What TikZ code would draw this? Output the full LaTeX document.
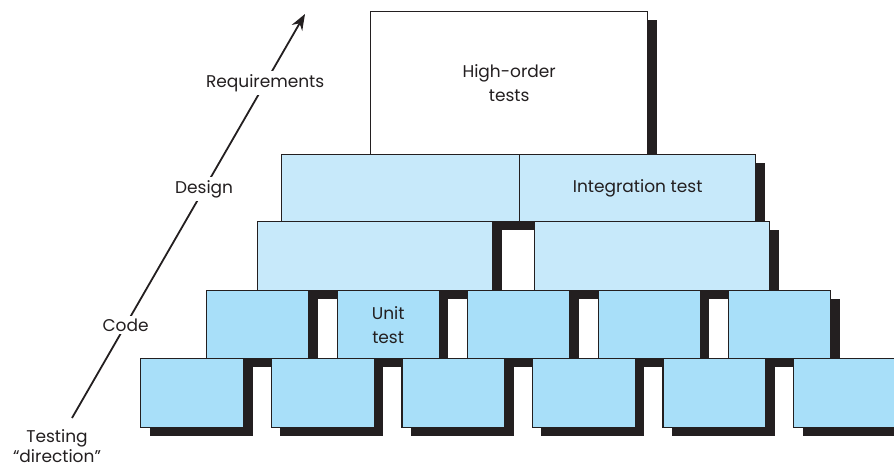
\documentclass[tikz,border=0pt]{standalone}
\usepackage{fontspec}
\setmainfont{Poppins}
\usetikzlibrary{arrows.meta,shadows}

\definecolor{inkgray}{RGB}{35,31,32}
\definecolor{paleblue}{RGB}{199,233,250}
\definecolor{brickblue}{RGB}{168,223,249}

\tikzset{
  brick/.style={draw=inkgray, line width=1.3pt, inner sep=0pt, anchor=north west,
    drop shadow={shadow xshift=9pt, shadow yshift=-8pt, fill=inkgray, opacity=1},
    font=\fontsize{17}{24}\selectfont, text=inkgray, align=center},
  lvllabel/.style={fill=white, inner sep=3pt, font=\fontsize{17}{22}\selectfont, text=inkgray},
}

\begin{document}
\begin{tikzpicture}[x=1pt, y=-1pt]
\useasboundingbox (0, 0) rectangle (894, 469);

% top of the pyramid
\node[brick, fill=white, minimum width=277pt, minimum height=143pt] (H) at (370, 11) {High-order\\tests};

% integration rows
\node[brick, fill=paleblue, minimum width=238pt, minimum height=67pt] (I1) at (281, 154) {};
\node[brick, fill=paleblue, minimum width=236pt, minimum height=67pt] (I2) at (519, 154) {Integration test};
\node[brick, fill=paleblue, minimum width=235pt, minimum height=69pt] (J1) at (257, 221) {};
\node[brick, fill=paleblue, minimum width=235pt, minimum height=69pt] (J2) at (534, 221) {};

% unit rows
\node[brick, fill=brickblue, minimum width=102pt, minimum height=68pt] (U1) at (206, 290) {};
\node[brick, fill=brickblue, minimum width=102pt, minimum height=68pt] (U2) at (336.5, 290) {Unit\\test};
\node[brick, fill=brickblue, minimum width=102pt, minimum height=68pt] (U3) at (467, 290) {};
\node[brick, fill=brickblue, minimum width=102pt, minimum height=68pt] (U4) at (597.5, 290) {};
\node[brick, fill=brickblue, minimum width=102pt, minimum height=68pt] (U5) at (728, 290) {};
\node[brick, fill=brickblue, minimum width=103pt, minimum height=69pt] (B1) at (140, 358) {};
\node[brick, fill=brickblue, minimum width=103pt, minimum height=69pt] (B2) at (270.6, 358) {};
\node[brick, fill=brickblue, minimum width=103pt, minimum height=69pt] (B3) at (401.2, 358) {};
\node[brick, fill=brickblue, minimum width=103pt, minimum height=69pt] (B4) at (531.8, 358) {};
\node[brick, fill=brickblue, minimum width=103pt, minimum height=69pt] (B5) at (662.4, 358) {};
\node[brick, fill=brickblue, minimum width=103pt, minimum height=69pt] (B6) at (793, 358) {};

% testing direction
\coordinate (tail) at (72, 418);
\coordinate (head) at (305, 14);
\node[align=center, text=inkgray, font=\fontsize{17}{20}\selectfont] (dir) at (57, 446) {Testing\\``direction''};
\draw[inkgray, line width=1.8pt, -{Stealth[length=16pt, width=12pt]}] (tail)
  -- node[lvllabel, pos=0.23] (code) {Code}
     node[lvllabel, pos=0.567] (design) {Design}
     node[lvllabel, pos=0.829] (req) {Requirements} (head);
\end{tikzpicture}
\end{document}
